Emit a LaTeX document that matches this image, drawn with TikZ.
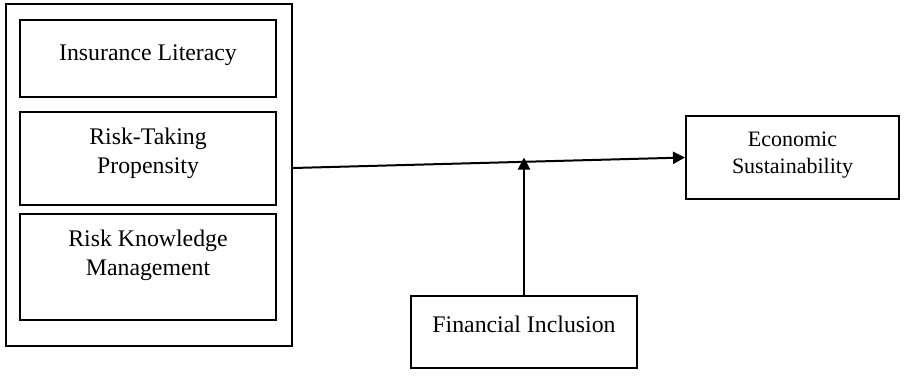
\documentclass[tikz,border=0pt]{standalone}
\usepackage{fontspec}
\setmainfont{Liberation Serif}
\usepackage{tikz}
\usetikzlibrary{arrows.meta, positioning, calc}

\begin{document}
\begin{tikzpicture}[
    x=1pt, y=-1pt,
    box/.style={rectangle, draw, line width=2pt, inner sep=0pt},
    txt/.style={align=center, inner sep=0pt, font=\fontsize{23.8}{29}\selectfont},
    link/.style={line width=2pt, -{Triangle[length=12pt, width=12pt]}}
]
\useasboundingbox (0,0) rectangle (904,376);

% Boxes
\node[box, minimum width=286pt, minimum height=342pt] (group) at (149, 175) {};
\node[box, minimum width=256pt, minimum height=77pt] (literacy) at (148, 58.5) {};
\node[box, minimum width=256pt, minimum height=93pt] (risktaking) at (148, 158.5) {};
\node[box, minimum width=256pt, minimum height=106pt] (riskknow) at (148, 267) {};
\node[box, minimum width=213pt, minimum height=83pt] (econ) at (792.5, 157.5) {};
\node[box, minimum width=226pt, minimum height=72pt] (fininc) at (524, 332) {};

% Labels
\node[txt] (literacyText) at (148, 54.7) {Insurance Literacy};
\node[txt] (risktakingText) at (148, 153) {Risk-Taking\\Propensity};
\node[txt] (riskknowText) at (148, 255.5) {Risk Knowledge\\Management};
\node[txt, font=\fontsize{22}{27}\selectfont] (econText) at (792.5, 155) {Economic\\Sustainability};
\node[txt] (finincText) at (524, 323.9) {Financial Inclusion};

% Relations
\draw[link] ($(group.east)+(0,-7)$) -- (econ.west);
\draw[link] (fininc.north) -- (fininc.north |- econ.west);

\end{tikzpicture}
\end{document}
